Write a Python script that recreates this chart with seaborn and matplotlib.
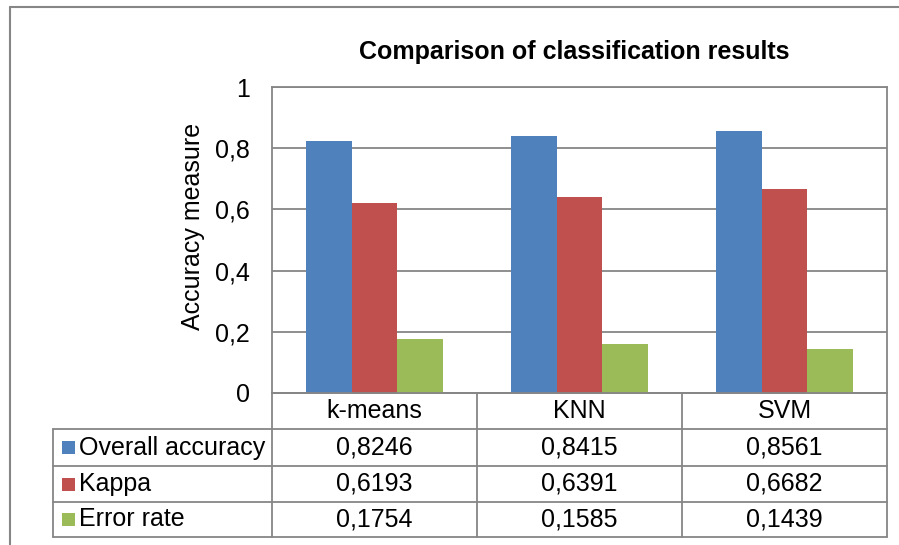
import matplotlib
matplotlib.use("Agg")
import matplotlib.pyplot as plt
import matplotlib.transforms as mtransforms
from matplotlib.lines import Line2D
from matplotlib.patches import Rectangle
import pandas as pd
import seaborn as sns

# Classification results per method
methods = ["k-means", "KNN", "SVM"]
measures = ["Overall accuracy", "Kappa", "Error rate"]
overall_accuracy = [0.8246, 0.8415, 0.8561]
kappa = [0.6193, 0.6391, 0.6682]
error_rate = [0.1754, 0.1585, 0.1439]
series = [overall_accuracy, kappa, error_rate]
colors = ["#4F81BD", "#C0504D", "#9BBB59"]
y_ticks = [0, 0.2, 0.4, 0.6, 0.8, 1.0]

W, H = 899, 545
sns.set_style("white")
plt.rcParams["font.family"] = ["Liberation Sans", "DejaVu Sans"]
plt.rcParams.update({"text.color": "black", "axes.labelcolor": "black",
                     "xtick.color": "black", "ytick.color": "black"})
FS = 18
GRID = "#868686"


def fx(px):
    return px / W


def fy(py):
    return 1 - py / H


def comma(v):
    s = f"{v:g}"
    return s.replace(".", ",")


fig = plt.figure(figsize=(W / 100, H / 100), dpi=100)

# Plot area in pixel bounds
L, R, T, B = 272, 887, 87, 393
ax = fig.add_axes([fx(L), fy(B), fx(R) - fx(L), fy(T) - fy(B)])

df = pd.DataFrame({
    "method": [m for _ in measures for m in methods],
    "measure": [s for s in measures for _ in methods],
    "value": overall_accuracy + kappa + error_rate,
})
sns.barplot(data=df, x="method", y="value", hue="measure", order=methods,
            hue_order=measures, palette=colors, width=0.67, saturation=1,
            edgecolor="none", legend=False, ax=ax, zorder=3)

ax.set_xlim(-0.5, len(methods) - 0.5)
ax.set_ylim(0, 1)
ax.set_yticks(y_ticks)
ax.set_yticklabels([comma(t) for t in y_ticks], fontsize=FS)
ax.tick_params(axis="y", length=0, pad=16)
ax.set_xticks([])
ax.set_xlabel("")
ax.set_ylabel("Accuracy measure", fontsize=FS)
ax.yaxis.set_label_coords((205 - L) / (R - L), (B - 226) / (B - T))
ax.yaxis.grid(True, color=GRID, lw=1.3, zorder=0)
ax.set_axisbelow(True)
for sp in ax.spines.values():
    sp.set_color(GRID)
    sp.set_linewidth(1.3)

fig.text(fx(574), fy(52), "Comparison of classification results",
         fontsize=FS, fontweight="bold", ha="center", va="center")

# Data table under the chart
rows_y = [393, 429, 466, 502, 537]
tab_left = 53
bt = mtransforms.blended_transform_factory(ax.transData, fig.transFigure)
ft = fig.transFigure

for i, y in enumerate(rows_y):
    x0 = fx(L) if i == 0 else fx(tab_left)
    fig.add_artist(Line2D([x0, fx(R)], [fy(y), fy(y)], color=GRID, lw=1.3,
                          transform=ft))
fig.add_artist(Line2D([fx(tab_left)] * 2, [fy(rows_y[1]), fy(rows_y[-1])],
                      color=GRID, lw=1.3, transform=ft))
for k in range(len(methods) + 1):
    fig.add_artist(Line2D([k - 0.5] * 2, [fy(rows_y[0]), fy(rows_y[-1])],
                          color=GRID, lw=1.3, transform=bt))

# Header row with method names
hy = fy((rows_y[0] + rows_y[1]) / 2)
for k, m in enumerate(methods):
    fig.text(k, hy, m, transform=bt, fontsize=FS, ha="center", va="center")

# Rows with legend key, measure name and values
for r, (name, vals, c) in enumerate(zip(measures, series, colors)):
    cy = (rows_y[r + 1] + rows_y[r + 2]) / 2
    fig.add_artist(Rectangle((fx(62), fy(cy + 6.5)), fx(13), 13 / H,
                             facecolor=c, edgecolor="none", transform=ft))
    fig.text(fx(79), fy(cy), name, fontsize=FS, ha="left", va="center")
    for k, v in enumerate(vals):
        fig.text(k, fy(cy), f"{v:.4f}".replace(".", ","), transform=bt,
                 fontsize=FS, ha="center", va="center")

# Outer chart frame
fig.add_artist(Line2D([fx(10), 1], [fy(7), fy(7)], color=GRID, lw=1.5,
                      transform=ft))
fig.add_artist(Line2D([fx(10), fx(10)], [fy(7), 0], color=GRID, lw=1.5,
                      transform=ft))

fig.savefig("out.png", dpi=100, facecolor="white")
